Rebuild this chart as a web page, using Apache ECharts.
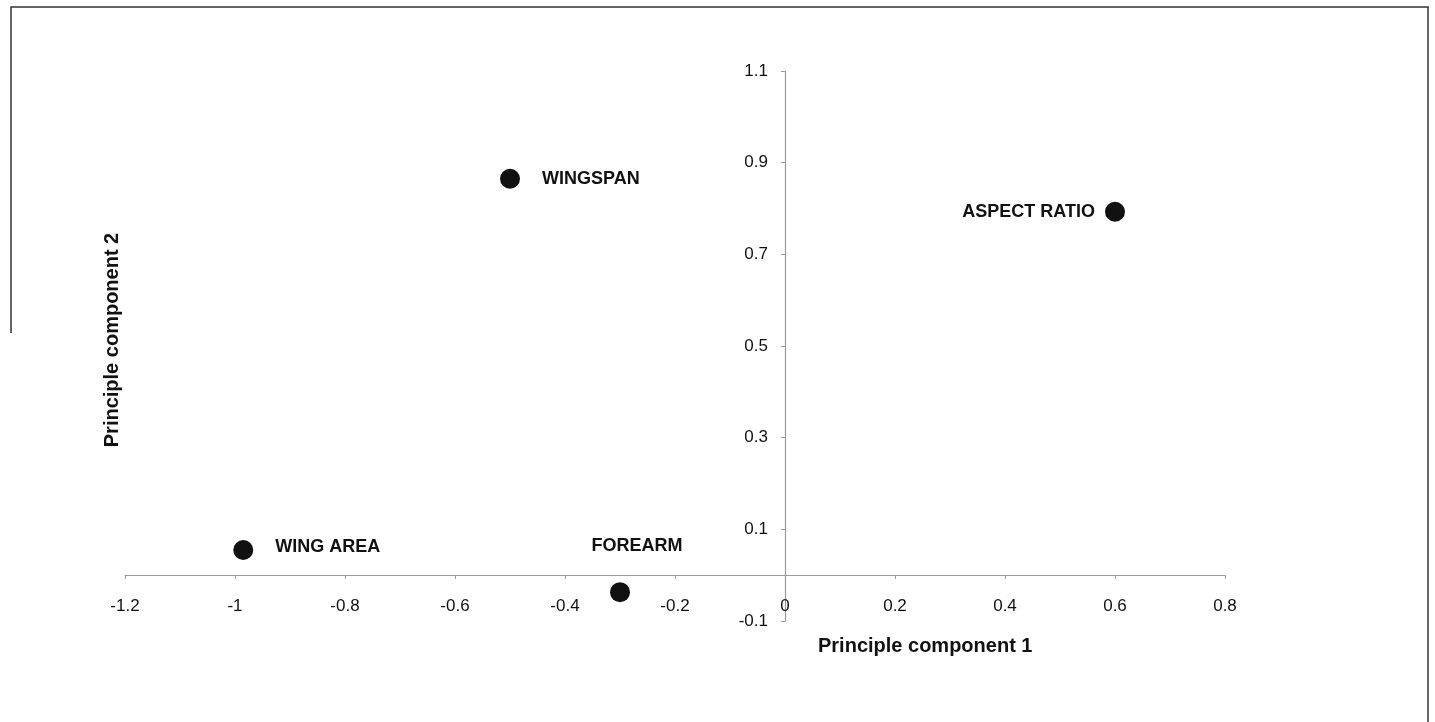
<!DOCTYPE html>
<html>
<head>
<meta charset="utf-8">
<script src="https://cdn.jsdelivr.net/npm/echarts@6/dist/echarts.min.js"></script>
<style>
html,body{margin:0;padding:0;background:#fff;}
#chart{width:1435px;height:722px;}
</style>
</head>
<body>
<div id="chart"></div>
<script>
// ---- data ----
const categories = ['WINGSPAN', 'ASPECT RATIO', 'WING AREA', 'FOREARM'];
const pc1 = [-0.50, 0.60, -0.985, -0.30];
const pc2 = [0.865, 0.793, 0.055, -0.037];
const xTicks = [-1.2, -1, -0.8, -0.6, -0.4, -0.2, 0, 0.2, 0.4, 0.6, 0.8];
const yTicks = [-0.1, 0.1, 0.3, 0.5, 0.7, 0.9, 1.1];
const xName = 'Principle component 1';
const yName = 'Principle component 2';

// ---- label placement (style) ----
const labelStyle = {
  'WINGSPAN': { position: 'right', distance: 22 },
  'ASPECT RATIO': { position: 'left', distance: 10 },
  'WING AREA': { position: 'right', distance: 22, offset: [0, -3] },
  'FOREARM': { position: 'top', distance: 5, offset: [17, -22] }
};

const FONT = '"Liberation Sans", Arial, Helvetica, sans-serif';
const fmt = v => String(Math.round(v * 10) / 10);

const chart = echarts.init(document.getElementById('chart'), null, { renderer: 'canvas' });
chart.setOption({
  animation: false,
  backgroundColor: '#ffffff',
  grid: { left: 125, right: 210, top: 71, bottom: 101, containLabel: false },
  xAxis: {
    type: 'value',
    min: -1.2, max: 0.8,
    position: 'bottom',
    offset: -46,
    axisLine: { onZero: false, lineStyle: { color: '#9a9a9a', width: 1.2 } },
    axisTick: { show: true, inside: false, length: 4, customValues: xTicks, lineStyle: { color: '#9a9a9a' } },
    axisLabel: { customValues: xTicks, formatter: fmt, margin: 23, fontSize: 17, color: '#111', fontFamily: FONT },
    splitLine: { show: false }
  },
  yAxis: {
    type: 'value',
    min: -0.1, max: 1.1,
    position: 'left',
    offset: -660,
    axisLine: { onZero: false, lineStyle: { color: '#9a9a9a', width: 1.2 } },
    axisTick: { show: true, inside: false, length: 4, customValues: yTicks, lineStyle: { color: '#9a9a9a' } },
    axisLabel: { customValues: yTicks, formatter: fmt, margin: 17, fontSize: 17, color: '#111', fontFamily: FONT },
    splitLine: { show: false }
  },
  series: [{
    type: 'scatter',
    symbol: 'circle',
    symbolSize: 20,
    itemStyle: { color: '#111', opacity: 1 },
    data: categories.map((c, i) => ({
      name: c,
      value: [pc1[i], pc2[i]],
      label: Object.assign({
        show: true,
        formatter: c,
        fontSize: 18,
        fontWeight: 'bold',
        color: '#111',
        opacity: 1,
        fontFamily: FONT
      }, labelStyle[c])
    }))
  }],
  graphic: [
    { type: 'text', left: 818, top: 636, style: { text: xName, font: 'bold 20px ' + FONT, fill: '#111' } },
    { type: 'text', x: 112, y: 340, rotation: Math.PI / 2,
      style: { text: yName, font: 'bold 20px ' + FONT, fill: '#111', align: 'center', verticalAlign: 'middle' } },
    { type: 'polyline', shape: { points: [[11, 333], [11, 7], [1428, 7], [1428, 722]] },
      style: { stroke: '#333', lineWidth: 1.5, fill: null } }
  ]
});
</script>
</body>
</html>
